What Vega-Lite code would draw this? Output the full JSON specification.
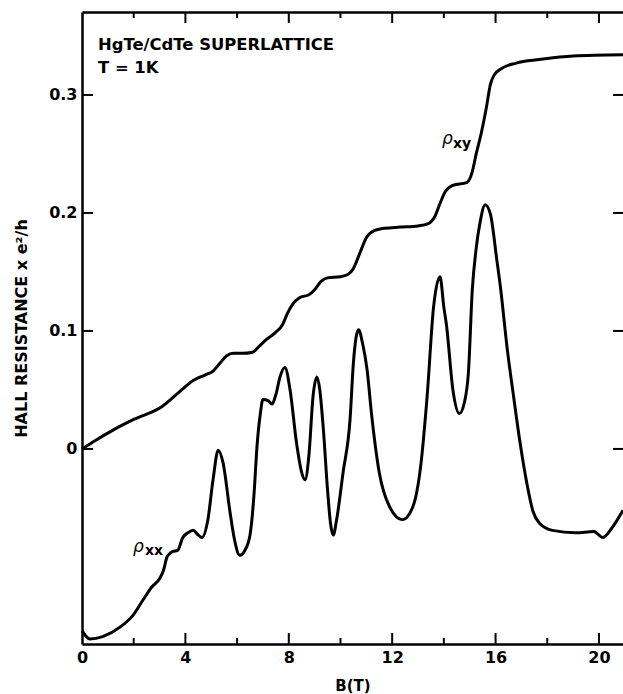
{
  "$schema": "https://vega.github.io/schema/vega-lite/v6.json",
  "width": 541,
  "height": 632,
  "autosize": "none",
  "padding": {"left": 82, "top": 12, "right": 0, "bottom": 50},
  "background": "white",
  "config": {
    "view": {"stroke": null},
    "axis": {
      "grid": false,
      "domainColor": "black",
      "tickColor": "black",
      "labelColor": "black",
      "titleColor": "black",
      "labelFont": "DejaVu Sans",
      "titleFont": "DejaVu Sans",
      "labelFontWeight": "bold",
      "titleFontWeight": "bold"
    }
  },
  "datasets": {
    "rhoxy": [
      {"B": 0, "v": 0}, {"B": 0.5, "v": 0.007}, {"B": 1.2, "v": 0.016}, {"B": 2.0, "v": 0.025},
      {"B": 3.1, "v": 0.036}, {"B": 3.8, "v": 0.049}, {"B": 4.3, "v": 0.058}, {"B": 4.8, "v": 0.063},
      {"B": 5.07, "v": 0.066}, {"B": 5.35, "v": 0.073}, {"B": 5.6, "v": 0.079}, {"B": 5.85, "v": 0.081},
      {"B": 6.2, "v": 0.081}, {"B": 6.6, "v": 0.082}, {"B": 6.9, "v": 0.088}, {"B": 7.15, "v": 0.093},
      {"B": 7.5, "v": 0.099}, {"B": 7.75, "v": 0.105}, {"B": 7.95, "v": 0.115}, {"B": 8.16, "v": 0.123},
      {"B": 8.4, "v": 0.128}, {"B": 8.8, "v": 0.131}, {"B": 9.0, "v": 0.135}, {"B": 9.25, "v": 0.142},
      {"B": 9.5, "v": 0.145}, {"B": 10.0, "v": 0.146}, {"B": 10.3, "v": 0.148}, {"B": 10.5, "v": 0.153},
      {"B": 10.75, "v": 0.166}, {"B": 11.0, "v": 0.179}, {"B": 11.3, "v": 0.185}, {"B": 11.7, "v": 0.187},
      {"B": 12.3, "v": 0.188}, {"B": 13.0, "v": 0.189}, {"B": 13.4, "v": 0.191}, {"B": 13.65, "v": 0.197},
      {"B": 13.85, "v": 0.208}, {"B": 14.05, "v": 0.218}, {"B": 14.3, "v": 0.223}, {"B": 14.9, "v": 0.226},
      {"B": 15.1, "v": 0.235}, {"B": 15.25, "v": 0.25}, {"B": 15.45, "v": 0.268}, {"B": 15.65, "v": 0.29},
      {"B": 15.8, "v": 0.309}, {"B": 15.95, "v": 0.317}, {"B": 16.2, "v": 0.322}, {"B": 16.8, "v": 0.327},
      {"B": 17.7, "v": 0.33}, {"B": 19.0, "v": 0.333}, {"B": 21, "v": 0.334}
    ],
    "rhoxx": [
      {"B": 0, "v": -0.154}, {"B": 0.3, "v": -0.161}, {"B": 0.8, "v": -0.159}, {"B": 1.47, "v": -0.151},
      {"B": 1.97, "v": -0.141}, {"B": 2.36, "v": -0.128}, {"B": 2.7, "v": -0.117}, {"B": 3.0, "v": -0.11},
      {"B": 3.15, "v": -0.103}, {"B": 3.3, "v": -0.091}, {"B": 3.5, "v": -0.087}, {"B": 3.7, "v": -0.086},
      {"B": 3.9, "v": -0.075}, {"B": 4.1, "v": -0.071}, {"B": 4.3, "v": -0.069}, {"B": 4.5, "v": -0.073},
      {"B": 4.64, "v": -0.075}, {"B": 4.87, "v": -0.06}, {"B": 5.07, "v": -0.026}, {"B": 5.27, "v": -0.001},
      {"B": 5.46, "v": -0.012}, {"B": 5.73, "v": -0.054}, {"B": 5.9, "v": -0.077}, {"B": 6.1, "v": -0.09},
      {"B": 6.3, "v": -0.086}, {"B": 6.5, "v": -0.073}, {"B": 6.65, "v": -0.04}, {"B": 6.77, "v": 0.002},
      {"B": 6.9, "v": 0.03}, {"B": 7.0, "v": 0.042}, {"B": 7.2, "v": 0.041}, {"B": 7.35, "v": 0.038},
      {"B": 7.5, "v": 0.046}, {"B": 7.66, "v": 0.061}, {"B": 7.85, "v": 0.069}, {"B": 8.05, "v": 0.05},
      {"B": 8.3, "v": 0.005}, {"B": 8.5, "v": -0.02}, {"B": 8.63, "v": -0.026}, {"B": 8.78, "v": -0.005},
      {"B": 8.94, "v": 0.045}, {"B": 9.09, "v": 0.061}, {"B": 9.2, "v": 0.05}, {"B": 9.34, "v": 0.016},
      {"B": 9.5, "v": -0.035}, {"B": 9.62, "v": -0.064}, {"B": 9.72, "v": -0.073}, {"B": 9.85, "v": -0.06},
      {"B": 10.1, "v": -0.02}, {"B": 10.37, "v": 0.025}, {"B": 10.5, "v": 0.073}, {"B": 10.7, "v": 0.101},
      {"B": 10.85, "v": 0.09}, {"B": 11.03, "v": 0.067}, {"B": 11.2, "v": 0.03}, {"B": 11.5, "v": -0.02},
      {"B": 11.9, "v": -0.049}, {"B": 12.4, "v": -0.06}, {"B": 12.8, "v": -0.049}, {"B": 13.1, "v": -0.015},
      {"B": 13.35, "v": 0.044}, {"B": 13.6, "v": 0.12}, {"B": 13.85, "v": 0.146}, {"B": 14.0, "v": 0.12},
      {"B": 14.1, "v": 0.105}, {"B": 14.35, "v": 0.05}, {"B": 14.6, "v": 0.03}, {"B": 14.8, "v": 0.04},
      {"B": 14.95, "v": 0.065}, {"B": 15.1, "v": 0.135}, {"B": 15.25, "v": 0.17}, {"B": 15.4, "v": 0.192},
      {"B": 15.6, "v": 0.207}, {"B": 15.8, "v": 0.199}, {"B": 16.05, "v": 0.16}, {"B": 16.2, "v": 0.135},
      {"B": 16.45, "v": 0.085}, {"B": 16.7, "v": 0.044}, {"B": 16.95, "v": 0.005}, {"B": 17.2, "v": -0.028},
      {"B": 17.45, "v": -0.053}, {"B": 17.7, "v": -0.063}, {"B": 18.2, "v": -0.069}, {"B": 19.1, "v": -0.071},
      {"B": 19.8, "v": -0.07}, {"B": 20.15, "v": -0.075}, {"B": 20.5, "v": -0.067}, {"B": 20.93, "v": -0.052}
    ],
    "note": [
      {"B": 0.62, "v": 0.338, "label": "HgTe/CdTe SUPERLATTICE"},
      {"B": 0.62, "v": 0.319, "label": "T = 1K"}
    ],
    "rho": [
      {"B": 13.93, "v": 0.2585, "label": "ρ"},
      {"B": 1.97, "v": -0.0873, "label": "ρ"}
    ],
    "sub": [
      {"B": 14.35, "v": 0.255, "label": "xy"},
      {"B": 2.44, "v": -0.0898, "label": "xx"}
    ],
    "majorB": [{"B": 4}, {"B": 8}, {"B": 12}, {"B": 16}, {"B": 20}],
    "minorB": [{"B": 2}, {"B": 6}, {"B": 10}, {"B": 14}, {"B": 18}],
    "levels": [{"v": 0}, {"v": 0.1}, {"v": 0.2}, {"v": 0.3}]
  },
  "layer": [
    {
      "data": {"name": "rhoxy"},
      "mark": {"type": "line", "color": "black", "strokeWidth": 3, "interpolate": "monotone"},
      "encoding": {
        "x": {
          "field": "B", "type": "quantitative",
          "scale": {"domain": [0, 20.93], "nice": false, "zero": false},
          "axis": {
            "orient": "bottom", "values": [0, 4, 8, 12, 16, 20], "ticks": false,
            "domain": true, "domainWidth": 2.5, "labelFontSize": 16, "labelPadding": 18,
            "labelBaseline": "alphabetic", "labelFlush": false,
            "title": "B(T)", "titleFontSize": 15, "titleX": 270.5, "titleY": 46,
            "titleBaseline": "alphabetic", "titleAlign": "center"
          }
        },
        "y": {
          "field": "v", "type": "quantitative",
          "scale": {"domain": [-0.1653, 0.3703], "nice": false, "zero": false},
          "axis": {
            "orient": "left", "values": [0, 0.1, 0.2, 0.3], "ticks": false,
            "domain": true, "domainWidth": 2.5, "labelFontSize": 16, "labelPadding": 5,
            "labelFlush": false, "format": "~g",
            "title": "HALL RESISTANCE x e²/h", "titleFontSize": 16, "titleAngle": -90,
            "titleX": -61, "titleY": 316, "titleAlign": "center", "titleBaseline": "middle"
          }
        }
      }
    },
    {
      "data": {"name": "rhoxx"},
      "mark": {"type": "line", "color": "black", "strokeWidth": 3, "interpolate": "monotone"},
      "encoding": {
        "x": {
          "field": "B", "type": "quantitative",
          "scale": {"domain": [0, 20.93], "nice": false, "zero": false},
          "axis": {"orient": "top", "values": [4, 8, 12, 16, 20], "ticks": false, "labels": false,
                   "domain": true, "domainWidth": 2.5, "title": null}
        },
        "y": {
          "field": "v", "type": "quantitative",
          "scale": {"domain": [-0.1653, 0.3703], "nice": false, "zero": false},
          "axis": null
        }
      }
    },
    {
      "data": {"name": "note"},
      "mark": {"type": "text", "align": "left", "baseline": "alphabetic", "font": "DejaVu Sans",
               "fontWeight": "bold", "fontSize": 16.4, "color": "black"},
      "encoding": {
        "x": {"field": "B", "type": "quantitative",
              "scale": {"domain": [0, 20.93], "nice": false, "zero": false}, "axis": null},
        "y": {"field": "v", "type": "quantitative",
              "scale": {"domain": [-0.1653, 0.3703], "nice": false, "zero": false}, "axis": null},
        "text": {"field": "label"}
      }
    },
    {
      "data": {"name": "rho"},
      "mark": {"type": "text", "align": "left", "baseline": "alphabetic", "font": "DejaVu Sans",
               "fontStyle": "italic", "fontSize": 17, "color": "black"},
      "encoding": {
        "x": {"field": "B", "type": "quantitative",
              "scale": {"domain": [0, 20.93], "nice": false, "zero": false}, "axis": null},
        "y": {"field": "v", "type": "quantitative",
              "scale": {"domain": [-0.1653, 0.3703], "nice": false, "zero": false}, "axis": null},
        "text": {"field": "label"}
      }
    },
    {
      "data": {"name": "sub"},
      "mark": {"type": "text", "align": "left", "baseline": "alphabetic", "font": "DejaVu Sans",
               "fontWeight": "bold", "fontSize": 14, "color": "black"},
      "encoding": {
        "x": {"field": "B", "type": "quantitative",
              "scale": {"domain": [0, 20.93], "nice": false, "zero": false}, "axis": null},
        "y": {"field": "v", "type": "quantitative",
              "scale": {"domain": [-0.1653, 0.3703], "nice": false, "zero": false}, "axis": null},
        "text": {"field": "label"}
      }
    },
    {
      "data": {"name": "majorB"},
      "mark": {"type": "rule", "color": "black", "strokeWidth": 2, "y2Offset": -11},
      "encoding": {
        "x": {"field": "B", "type": "quantitative",
              "scale": {"domain": [0, 20.93], "nice": false, "zero": false}, "axis": null},
        "y": {"datum": -0.1653, "type": "quantitative",
              "scale": {"domain": [-0.1653, 0.3703], "nice": false, "zero": false}, "axis": null},
        "y2": {"datum": -0.1653}
      }
    },
    {
      "data": {"name": "minorB"},
      "mark": {"type": "rule", "color": "black", "strokeWidth": 2, "y2Offset": -6},
      "encoding": {
        "x": {"field": "B", "type": "quantitative",
              "scale": {"domain": [0, 20.93], "nice": false, "zero": false}, "axis": null},
        "y": {"datum": -0.1653, "type": "quantitative",
              "scale": {"domain": [-0.1653, 0.3703], "nice": false, "zero": false}, "axis": null},
        "y2": {"datum": -0.1653}
      }
    },
    {
      "data": {"name": "majorB"},
      "mark": {"type": "rule", "color": "black", "strokeWidth": 2, "y2Offset": 11},
      "encoding": {
        "x": {"field": "B", "type": "quantitative",
              "scale": {"domain": [0, 20.93], "nice": false, "zero": false}, "axis": null},
        "y": {"datum": 0.3703, "type": "quantitative",
              "scale": {"domain": [-0.1653, 0.3703], "nice": false, "zero": false}, "axis": null},
        "y2": {"datum": 0.3703}
      }
    },
    {
      "data": {"name": "minorB"},
      "mark": {"type": "rule", "color": "black", "strokeWidth": 2, "y2Offset": 6},
      "encoding": {
        "x": {"field": "B", "type": "quantitative",
              "scale": {"domain": [0, 20.93], "nice": false, "zero": false}, "axis": null},
        "y": {"datum": 0.3703, "type": "quantitative",
              "scale": {"domain": [-0.1653, 0.3703], "nice": false, "zero": false}, "axis": null},
        "y2": {"datum": 0.3703}
      }
    },
    {
      "data": {"name": "levels"},
      "mark": {"type": "rule", "color": "black", "strokeWidth": 2, "x2Offset": 11},
      "encoding": {
        "y": {"field": "v", "type": "quantitative",
              "scale": {"domain": [-0.1653, 0.3703], "nice": false, "zero": false}, "axis": null},
        "x": {"datum": 0, "type": "quantitative",
              "scale": {"domain": [0, 20.93], "nice": false, "zero": false}, "axis": null},
        "x2": {"datum": 0}
      }
    },
    {
      "data": {"name": "levels"},
      "mark": {"type": "rule", "color": "black", "strokeWidth": 2, "x2Offset": -10},
      "encoding": {
        "y": {"field": "v", "type": "quantitative",
              "scale": {"domain": [-0.1653, 0.3703], "nice": false, "zero": false}, "axis": null},
        "x": {"datum": 20.93, "type": "quantitative",
              "scale": {"domain": [0, 20.93], "nice": false, "zero": false}, "axis": null},
        "x2": {"datum": 20.93}
      }
    }
  ],
  "resolve": {"axis": {"x": "independent", "y": "independent"}}
}
